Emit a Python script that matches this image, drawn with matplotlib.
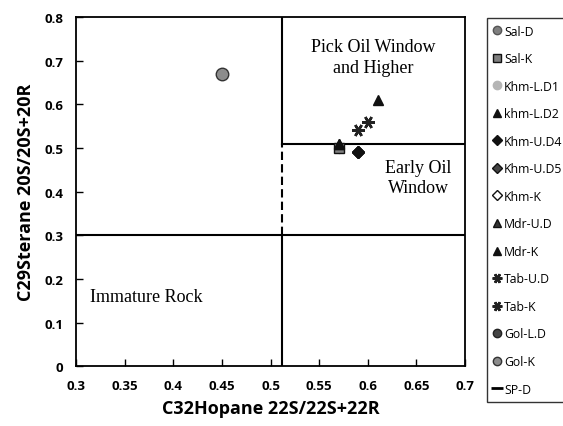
import matplotlib.pyplot as plt
from matplotlib.lines import Line2D

# sample series: name, x (C32 hopane), y (C29 sterane)
names = ["Sal-D", "Sal-K", "Khm-L.D1", "khm-L.D2", "Khm-U.D4", "Khm-U.D5", "Khm-K",
         "Mdr-U.D", "Mdr-K", "Tab-U.D", "Tab-K", "Gol-L.D", "Gol-K", "SP-D"]
x_vals = [0.57, 0.57, 0.57, 0.57, 0.59, 0.59, 0.59, 0.57, 0.61, 0.59, 0.60, 0.57, 0.45, None]
y_vals = [0.50, 0.50, 0.50, 0.51, 0.49, 0.49, 0.49, 0.51, 0.61, 0.54, 0.56, 0.50, 0.67, None]

star = (6, 2, 90)
markers = ["o", "s", "o", "^", "D", "D", "D", "^", "^", star, star, "o", "o", "_"]
faces = ["#7f7f7f", "#7f7f7f", "#b5b5b5", "#111111", "#111111", "#444444", "white",
         "#333333", "#111111", "#222222", "#222222", "#444444", "#8c8c8c", "black"]
edges = ["#555555", "#111111", "#b5b5b5", "#111111", "#111111", "#111111", "#111111",
         "#111111", "#111111", "#222222", "#222222", "#222222", "#333333", "black"]
sizes = [7, 6.5, 7, 7, 6, 6, 6, 7, 7, 9, 9, 7, 9, 8]
layer = [3, 4, 3, 5, 6, 4, 3, 4, 4, 4, 4, 3, 4, 4]

# boundary lines
hop_limit = 0.512
ster_low = 0.30
ster_high = 0.51

fig = plt.figure(figsize=(5.63, 4.27), dpi=100)
ax = fig.add_axes([0.135, 0.14, 0.691, 0.818])

ax.plot([hop_limit, hop_limit], [ster_high, 0.8], color="black", lw=1.5)
ax.plot([hop_limit, hop_limit], [ster_low, ster_high], color="black", lw=1.5, ls=(0, (4, 2)))
ax.plot([hop_limit, hop_limit], [0, ster_low], color="black", lw=1.5)
ax.plot([0.3, 0.7], [ster_low, ster_low], color="black", lw=1.5)
ax.plot([hop_limit, 0.7], [ster_high, ster_high], color="black", lw=1.5)

handles = []
for i in range(len(names)):
    mw = 1.0
    if markers[i] == "_":
        mw = 2.0
    if markers[i] == star:
        mw = 1.8
    if x_vals[i] is not None:
        ax.plot(x_vals[i], y_vals[i], ls="none", marker=markers[i], ms=sizes[i],
                mfc=faces[i], mec=edges[i], mew=mw, zorder=layer[i])
    hs = 6
    if markers[i] == "_":
        hs = 8
    elif markers[i] == "D":
        hs = 5
    elif markers[i] == star:
        hs = 7
    handles.append(Line2D([], [], ls="none", marker=markers[i], ms=hs,
                          mfc=faces[i], mec=edges[i], mew=mw, label=names[i]))

serif = "Liberation Serif"
ax.text(0.606, 0.708, "Pick Oil Window\nand Higher", ha="center", va="center",
        fontsize=13, family=serif, linespacing=1.25)
ax.text(0.652, 0.432, "Early Oil\nWindow", ha="center", va="center",
        fontsize=13, family=serif, linespacing=1.25)
ax.text(0.372, 0.16, "Immature Rock", ha="center", va="center",
        fontsize=13, family=serif)

ax.set_xlim(0.3, 0.7)
ax.set_ylim(0, 0.8)
ax.set_xticks([0.3, 0.35, 0.4, 0.45, 0.5, 0.55, 0.6, 0.65, 0.7])
ax.set_xticklabels(["0.3", "0.35", "0.4", "0.45", "0.5", "0.55", "0.6", "0.65", "0.7"])
ax.set_yticks([0, 0.1, 0.2, 0.3, 0.4, 0.5, 0.6, 0.7, 0.8])
ax.set_yticklabels(["0", "0.1", "0.2", "0.3", "0.4", "0.5", "0.6", "0.7", "0.8"])
ax.tick_params(direction="in", length=5, width=1, labelsize=9.5, pad=9)
for lab in ax.get_xticklabels() + ax.get_yticklabels():
    lab.set_fontweight("bold")
    lab.set_family("Open Sans")
for s in ax.spines.values():
    s.set_linewidth(1.3)

ax.set_xlabel("C32Hopane 22S/22S+22R", fontsize=13, fontweight="bold", family="Open Sans", labelpad=5)
ax.set_ylabel("C29Sterane 20S/20S+20R", fontsize=13, fontweight="bold", family="Open Sans", labelpad=7)

leg = fig.legend(handles=handles, loc="upper left", bbox_to_anchor=(0.865, 0.956),
                 frameon=True, fancybox=False, edgecolor="black", handlelength=0.6,
                 handletextpad=0.25, labelspacing=1.19, borderpad=0.55, borderaxespad=0,
                 prop={"family": "Open Sans", "size": 8.8})
leg.get_frame().set_linewidth(1.0)

fig.savefig("out.png", dpi=100)
